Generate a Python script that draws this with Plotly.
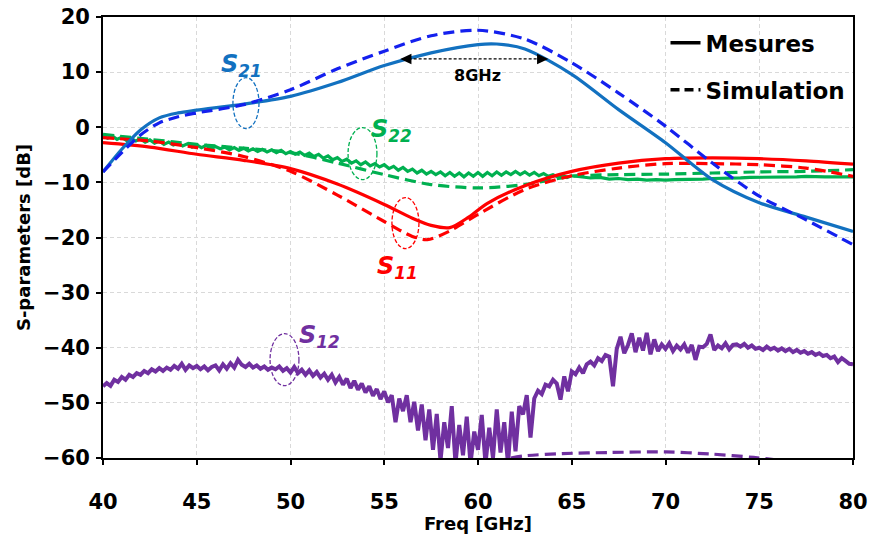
import numpy as np
import plotly.graph_objects as go

# ---------------- data ----------------
s21_meas_f = [40, 41, 42, 43, 44, 45, 47.5, 50, 52.5, 55, 57.5, 60, 61, 62.5, 65, 67.5, 70, 72.5, 75, 77.5, 80]
s21_meas = [-8.1, -4.0, -0.5, 1.7, 2.6, 3.1, 4.2, 5.6, 8.1, 11.2, 13.5, 15.0, 15.1, 14.2, 9.6, 3.2, -2.8, -9.5, -13.7, -16.3, -18.9]

s21_sim_f = [40, 41, 42, 43, 44, 45, 47.5, 50, 52.5, 55, 57.5, 60, 62.5, 65, 67.5, 70, 72.5, 75, 77.5, 80]
s21_sim = [-8.1, -4.6, -1.4, 0.8, 1.9, 2.6, 4.1, 6.8, 10.6, 13.8, 16.6, 17.6, 16.0, 11.7, 6.2, 0.2, -6.5, -12.5, -16.8, -21.3]

s11_meas_f = [40, 42.5, 45, 47.5, 50, 52.5, 55, 56.5, 57.5, 58.5, 59.5, 60.5, 62.5, 65, 67.5, 70, 72.5, 75, 77.5, 80]
s11_meas = [-2.8, -3.6, -4.9, -6.0, -7.5, -10.3, -14.0, -16.5, -17.8, -18.2, -16.3, -13.8, -10.6, -8.0, -6.5, -5.7, -5.55, -5.7, -6.1, -6.7]

s11_sim_f = [40, 42.5, 45, 47.5, 50, 52.5, 55, 56.5, 57.3, 58.5, 60, 62.5, 65, 67.5, 70, 72.5, 75, 77.5, 80]
s11_sim = [-1.9, -2.5, -3.7, -5.3, -8.0, -12.3, -17.1, -19.8, -20.4, -18.8, -15.8, -11.3, -8.8, -7.4, -6.6, -6.6, -6.8, -7.4, -8.9]

# S22 measured: 40 -> 65 GHz every 0.25 GHz, then 65.5 -> 80 every 0.5 GHz
s22_meas_f = list(np.arange(40, 65.001, 0.25)) + list(np.arange(65.5, 80.001, 0.5))
s22_meas = [
    -1.5, -2.0, -1.6, -2.2, -1.8, -2.4, -2.0, -2.5, -2.1, -2.7,
    -2.3, -2.9, -2.5, -3.1, -2.7, -3.2, -2.9, -3.4, -3.0, -3.6,
    -3.2, -3.7, -3.3, -3.9, -3.5, -3.9, -3.6, -4.1, -3.7, -4.2,
    -3.8, -4.3, -3.9, -4.4, -4.0, -4.5, -4.1, -4.6, -4.2, -4.8,
    -4.4, -4.9, -4.5, -5.1, -4.7, -5.3, -4.9, -5.6, -5.2, -5.9,
    -5.5, -6.2, -5.8, -6.5, -6.1, -6.8, -6.3, -7.0, -6.6, -7.2,
    -6.8, -7.5, -7.1, -7.8, -7.3, -8.0, -7.6, -8.3, -7.8, -8.5,
    -8.0, -8.6, -8.1, -8.8, -8.2, -8.9, -8.3, -9.0, -8.3, -8.9,
    -8.2, -8.9, -8.2, -8.8, -8.1, -8.7, -8.1, -8.6, -8.0, -8.6,
    -8.1, -8.7, -8.2, -8.8, -8.4, -8.9, -8.6, -9.0, -8.7, -9.1,
    -8.8,
    -9.0, -9.2, -9.1, -9.4, -9.3, -9.5, -9.4, -9.6, -9.5, -9.6,
    -9.5, -9.5, -9.4, -9.4, -9.3, -9.3, -9.2, -9.2, -9.1, -9.1,
    -9.0, -9.0, -9.0, -9.0, -8.9, -9.0, -9.0, -9.0, -9.0, -9.0,
]

s22_sim_f = [40, 42.5, 45, 47.5, 50, 52.5, 55, 57.5, 60, 62.5, 65, 67.5, 70, 72.5, 75, 77.5, 80]
s22_sim = [-1.3, -2.2, -3.1, -3.8, -4.6, -6.5, -8.6, -10.4, -11.0, -10.4, -8.9, -8.6, -8.5, -8.3, -8.1, -8.0, -7.7]

# S12 measured: 40 -> 80 GHz every 0.2 GHz
s12_meas_f = list(np.arange(40, 80.001, 0.2))
s12_meas = [
    -47.0, -46.4, -46.9, -45.8, -46.2, -45.3, -45.8, -44.9, -45.3, -44.6,
    -44.9, -44.2, -44.6, -43.9, -44.3, -43.7, -44.2, -43.6, -44.0, -43.3,
    -43.8, -42.9, -44.0, -43.2, -43.7, -43.3, -43.9, -43.4, -44.1, -43.5,
    -43.2, -44.1, -43.0, -43.8, -42.8, -43.6, -42.2, -43.1, -43.5, -42.9,
    -43.6, -43.2, -43.8, -43.4, -44.0, -43.6, -43.9, -43.4, -44.2, -43.7,
    -44.5, -43.5, -44.6, -44.0, -44.9, -44.1, -45.1, -44.4, -45.4, -44.7,
    -45.8, -44.9, -46.3, -45.3, -46.7, -45.6, -47.3, -46.0, -47.6, -46.5,
    -48.1, -47.0, -48.7, -47.5, -49.3, -47.9, -49.9, -48.6, -53.5, -49.2,
    -51.5, -48.6, -53.5, -49.8, -55.0, -50.3, -56.8, -51.2, -58.5, -52.0,
    -60.5, -53.5, -58.2, -50.6, -61.0, -54.0, -59.5, -52.5, -61.0, -55.2,
    -58.5, -52.2, -61.0, -54.5, -60.0, -51.2, -59.0, -53.5, -61.0, -51.6,
    -58.8, -50.6, -52.1, -48.6, -56.3, -49.2, -47.8, -48.4, -46.7, -47.0,
    -45.8, -46.5, -49.4, -45.2, -47.9, -44.3, -44.8, -43.6, -44.6, -43.0,
    -42.5, -43.2, -41.9, -42.4, -41.3, -41.6, -47.0, -40.2, -38.0, -41.0,
    -39.5, -37.4, -40.8, -38.2, -40.5, -37.3, -41.2, -38.5, -40.6, -39.4,
    -40.2, -39.2, -40.6, -39.6, -40.3, -39.4, -40.9, -39.5, -42.2, -39.8,
    -39.9, -39.3, -37.6, -40.4, -39.6, -40.1, -39.2, -40.3, -39.5, -39.4,
    -39.8, -39.3, -40.0, -39.6, -40.2, -40.0, -40.4, -39.8, -40.3, -40.0,
    -40.5, -40.1, -40.6, -40.2, -40.8, -40.4, -40.9, -40.6, -41.1, -40.8,
    -41.3, -41.0, -41.5, -41.3, -41.9, -41.6, -42.6, -41.9, -42.4, -42.9,
    -43.0,
]

s12_sim_f = [60, 61.5, 62.5, 64.5, 67, 70, 72.5, 74.7, 76.5, 78]
s12_sim = [-61.5, -60.2, -59.6, -59.2, -59.0, -58.9, -59.3, -59.9, -60.6, -61.5]

x_ticks = [40, 45, 50, 55, 60, 65, 70, 75, 80]
y_ticks = [-60, -50, -40, -30, -20, -10, 0, 10, 20]

legend_labels = ["Mesures", "Simulation"]

# ---------------- styles ----------------
C_S21M = "#1271C0"
C_S21S = "#1420EE"
C_RED = "#FF0000"
C_GREEN = "#00B050"
C_PURPLE = "#7030A0"
DASH = "11px,6px"
FONT = "DejaVu Sans"

fig = go.Figure()

def add(x, y, color, dash, width=3.2):
    fig.add_trace(go.Scatter(x=x, y=y, mode="lines",
                             line=dict(color=color, width=width, dash=dash,
                                       shape="spline", smoothing=0.8),
                             showlegend=False, hoverinfo="skip"))

def add_raw(x, y, color, width):
    fig.add_trace(go.Scatter(x=x, y=y, mode="lines",
                             line=dict(color=color, width=width),
                             showlegend=False, hoverinfo="skip"))

add_raw(s12_meas_f, s12_meas, C_PURPLE, 4)
add(s12_sim_f, s12_sim, C_PURPLE, DASH)
add_raw(s22_meas_f, s22_meas, C_GREEN, 3.2)
add(s22_sim_f, s22_sim, C_GREEN, DASH)
add(s11_meas_f, s11_meas, C_RED, "solid")
add(s11_sim_f, s11_sim, C_RED, DASH)
add(s21_meas_f, s21_meas, C_S21M, "solid")
add(s21_sim_f, s21_sim, C_S21S, DASH)

# legend entries (black)
fig.add_trace(go.Scatter(x=[None], y=[None], mode="lines", name=legend_labels[0],
                         line=dict(color="black", width=3.5), legendgroup="a"))
fig.add_trace(go.Scatter(x=[None], y=[None], mode="lines", name=legend_labels[1],
                         line=dict(color="black", width=3.5, dash="9px,5px"), legendgroup="b"))

# ellipses marking the curves
ellipses = [
    (46.93, 48.32, 9.0, -0.24, C_S21M),
    (53.07, 54.61, -0.05, -9.49, C_GREEN),
    (55.41, 56.85, -12.76, -22.01, C_RED),
    (48.91, 50.45, -37.44, -46.88, C_PURPLE),
]
for x0, x1, y0, y1, c in ellipses:
    fig.add_shape(type="circle", xref="x", yref="y", x0=x0, x1=x1, y0=y0, y1=y1,
                  line=dict(color=c, width=1.3, dash="4px,2px"))

labels = [
    (47.41, 11.2, "21", C_S21M),
    (55.4, -0.6, "22", C_GREEN),
    (55.68, -25.5, "11", C_RED),
    (51.57, -38.0, "12", C_PURPLE),
]
for x, y, sub, c in labels:
    fig.add_annotation(x=x, y=y, xref="x", yref="y", showarrow=False,
                       text=f"<b><i>S<sub>{sub}</sub></i></b>",
                       font=dict(family=FONT, size=24, color=c))

# 8 GHz dashed double arrow
ARROW_Y = 12.4
fig.add_shape(type="line", xref="x", yref="y", x0=56.3, x1=63.2, y0=ARROW_Y, y1=ARROW_Y,
              line=dict(color="black", width=1.3, dash="3px,2px"))
fig.add_shape(type="path", xref="x", yref="y", fillcolor="black", line=dict(width=0),
              path=f"M 55.85 {ARROW_Y} L 56.45 {ARROW_Y + 0.95} L 56.45 {ARROW_Y - 0.95} Z")
fig.add_shape(type="path", xref="x", yref="y", fillcolor="black", line=dict(width=0),
              path=f"M 63.75 {ARROW_Y} L 63.15 {ARROW_Y + 0.95} L 63.15 {ARROW_Y - 0.95} Z")
fig.add_annotation(x=59.95, y=9.4, xref="x", yref="y", showarrow=False,
                   text="<b>8GHz</b>", font=dict(family=FONT, size=16, color="black"))

axis_common = dict(
    showline=True, linecolor="black", linewidth=1.8, mirror=True,
    showgrid=True, gridcolor="#D9D9D9", gridwidth=1.3, griddash="4px,3px",
    ticks="outside", ticklen=5, tickwidth=1.5, tickcolor="black",
    tickfont=dict(family=FONT, size=21, color="black", weight="bold"),
    zeroline=False, automargin=False,
)

fig.update_layout(
    width=869, height=534, autosize=False,
    margin=dict(l=103, r=16, t=17, b=76, autoexpand=False),
    plot_bgcolor="white", paper_bgcolor="white",
    xaxis=dict(range=[40, 80], tickvals=x_ticks, ticklabelstandoff=19,
               title=dict(text="<b>Freq [GHz]</b>", standoff=2,
                          font=dict(family=FONT, size=18, color="black")),
               **axis_common),
    yaxis=dict(range=[-60, 20], tickvals=y_ticks, ticklabelstandoff=2,
               title=dict(text="<b>S-parameters [dB]</b>", standoff=8,
                          font=dict(family=FONT, size=18, color="black")),
               **axis_common),
    legend=dict(x=0.75, y=0.99, xanchor="left", yanchor="top",
                bgcolor="rgba(0,0,0,0)", tracegroupgap=14,
                font=dict(family=FONT, size=23, color="black", weight="bold")),
)

fig.write_html("out.html", config={"displayModeBar": False},
               post_script="document.body.style.margin='0px';")
